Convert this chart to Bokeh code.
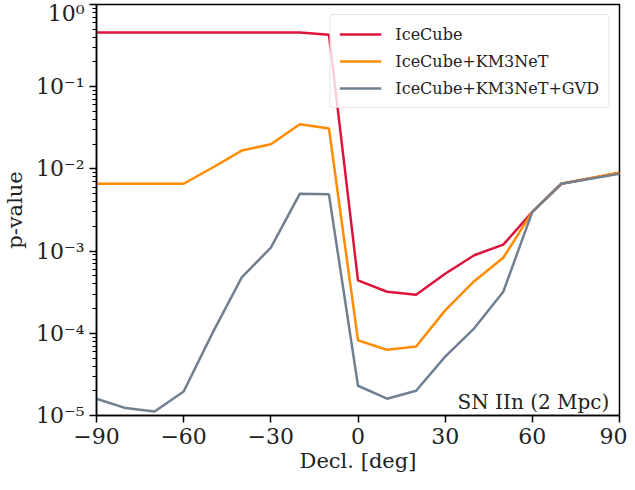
import numpy as np
from bokeh.plotting import figure
from bokeh.models import (Legend, LegendItem, Label, FixedTicker,
                          CustomJSTickFormatter, Range1d)
from bokeh.embed import file_html
from bokeh.resources import INLINE

decl = [-90, -80, -70, -60, -50, -40, -30, -20, -10, 0, 10, 20, 30, 40, 50, 60, 70, 80, 90]
icecube = [0.457, 0.457, 0.457, 0.457, 0.457, 0.457, 0.457, 0.457, 0.43,
           4.4e-4, 3.2e-4, 2.95e-4, 5.3e-4, 8.9e-4, 1.2e-3, 3.0e-3, 6.6e-3, 7.7e-3, 9.0e-3]
ice_km3 = [6.6e-3, 6.6e-3, 6.6e-3, 6.6e-3, 1.04e-2, 1.67e-2, 2.0e-2, 3.5e-2, 3.1e-2,
           8.2e-5, 6.3e-5, 6.9e-5, 1.9e-4, 4.3e-4, 8.3e-4, 3.0e-3, 6.6e-3, 7.7e-3, 9.0e-3]
ice_km3_gvd = [1.6e-5, 1.23e-5, 1.12e-5, 1.96e-5, 1.02e-4, 4.8e-4, 1.1e-3, 5.0e-3, 4.9e-3,
               2.3e-5, 1.6e-5, 2.0e-5, 5.2e-5, 1.15e-4, 3.2e-4, 3.0e-3, 6.6e-3, 7.6e-3, 8.7e-3]
labels = ["IceCube", "IceCube+KM3NeT", "IceCube+KM3NeT+GVD"]
colors = ["#DC143C", "#FF8C00", "#708090"]
x_ticks = [-90, -60, -30, 0, 30, 60, 90]
y_exponents = [-5, -4, -3, -2, -1, 0]

FONT = "DejaVu Serif"

y_major = [10.0 ** e for e in y_exponents]
y_minor = [m * 10.0 ** e for e in y_exponents[:-1] for m in range(2, 10)]

p = figure(frame_width=523, frame_height=411, y_axis_type="log",
           x_range=Range1d(-90, 90), y_range=Range1d(1e-5, 1),
           output_backend="svg", toolbar_location=None,
           min_border_left=92, min_border_right=8, min_border_top=4, min_border_bottom=55)
p.grid.visible = False
p.outline_line_color = "black"
p.outline_line_width = 1.5

items = []
for ys, lab, c in zip([icecube, ice_km3, ice_km3_gvd], labels, colors):
    r = p.line(decl, ys, line_color=c, line_width=2.5)
    items.append(LegendItem(label=lab, renderers=[r]))

leg = Legend(items=items, location="top_right")
leg.label_text_font = FONT
leg.label_text_font_size = "16px"
leg.label_text_color = "#222222"
leg.border_line_color = "#d0d0d0"
leg.border_line_width = 1
leg.border_radius = 4
leg.background_fill_alpha = 0.8
leg.glyph_width = 42
leg.label_standoff = 14
leg.spacing = 7
leg.padding = 9
leg.margin = 10
p.add_layout(leg)

xa = p.xaxis[0]
ya = p.yaxis[0]
xa.ticker = FixedTicker(ticks=x_ticks, minor_ticks=[])
xa.formatter = CustomJSTickFormatter(code="""
return tick < 0 ? '\u2212' + Math.abs(tick) : String(tick);
""")
ya.ticker = FixedTicker(ticks=y_major, minor_ticks=y_minor)
ya.formatter = CustomJSTickFormatter(code="""
const sup = {'0':'\u2070','1':'\u00b9','2':'\u00b2','3':'\u00b3','4':'\u2074','5':'\u2075','6':'\u2076','7':'\u2077','8':'\u2078','9':'\u2079','-':'\u207b'};
const e = Math.round(Math.log10(tick));
return '10' + String(e).split('').map(c => sup[c]).join('');
""")

for ax in [xa, ya]:
    ax.axis_line_width = 1.5
    ax.axis_line_color = "black"
    ax.major_tick_line_width = 1.5
    ax.major_tick_out = 7
    ax.major_tick_in = 0
    ax.minor_tick_out = 4
    ax.minor_tick_in = 0
    ax.minor_tick_line_width = 1
    ax.minor_tick_line_color = "black"
    ax.major_label_text_font = FONT
    ax.major_label_text_font_size = "22px"
    ax.major_label_text_color = "#222222"
    ax.axis_label_text_font = FONT
    ax.axis_label_text_font_size = "21px"
    ax.axis_label_text_font_style = "normal"
    ax.axis_label_text_color = "#222222"

xa.axis_label = "Decl. [deg]"
ya.axis_label = "p-value"
xa.axis_label_standoff = 2
ya.axis_label_standoff = 6

p.add_layout(Label(x=86.5, y=1.45e-5, text="SN IIn (2 Mpc)", text_align="right",
                   text_baseline="alphabetic", text_font=FONT, text_font_size="20px",
                   text_color="#222222"))

open("out.html", "w").write(file_html(p, INLINE))
